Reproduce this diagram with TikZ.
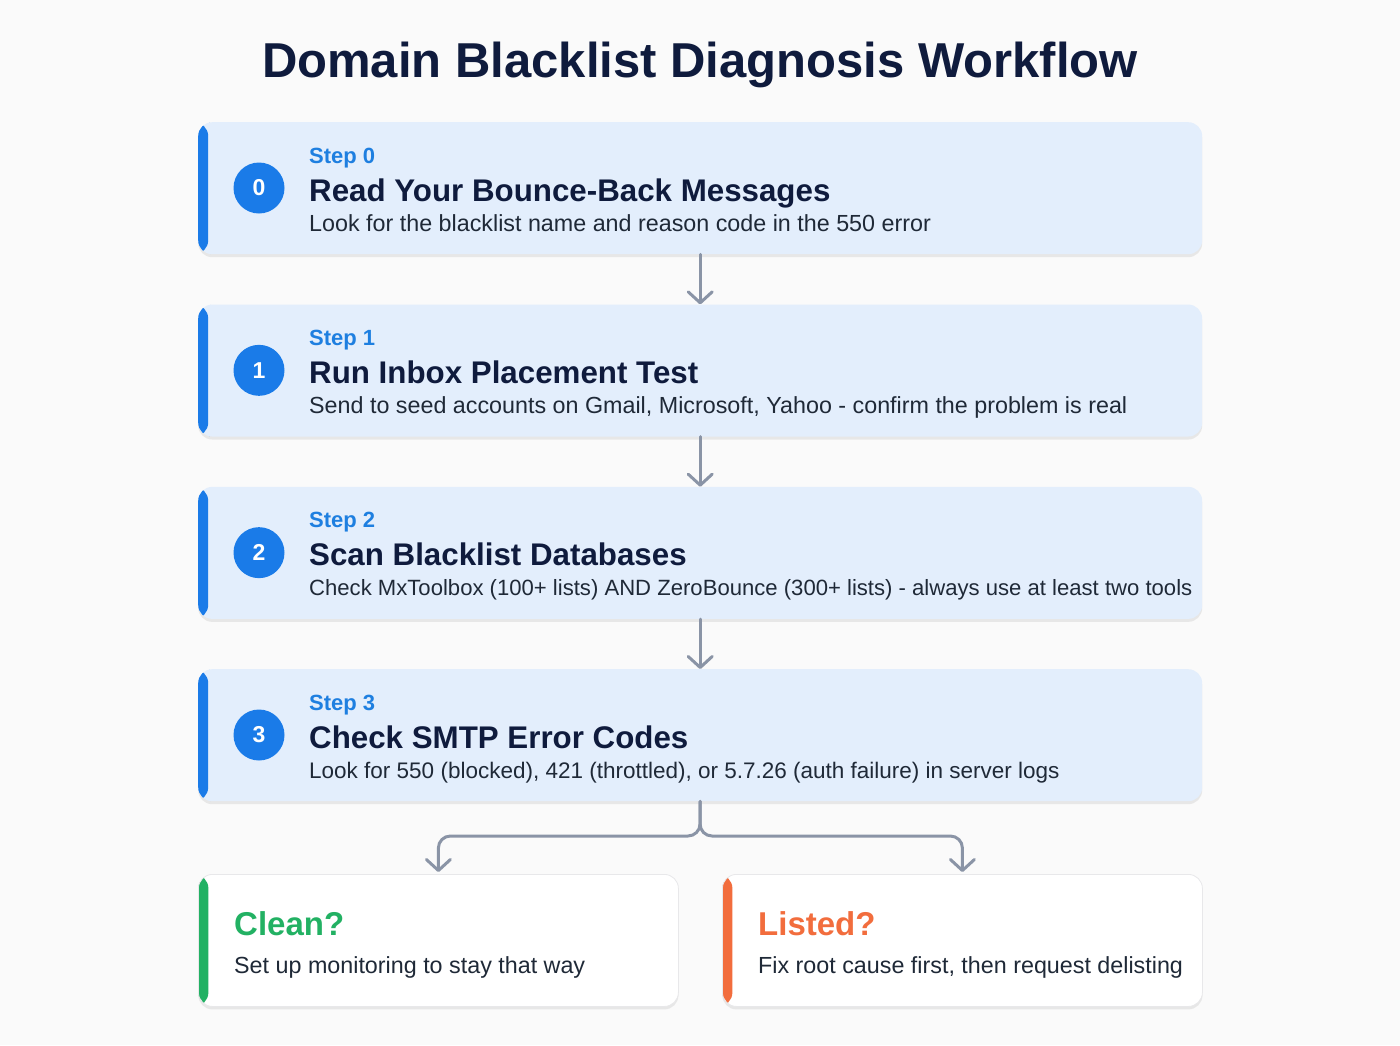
\documentclass[tikz,border=0pt]{standalone}
\usepackage{fontspec}
\setmainfont{Liberation Sans}
\usetikzlibrary{positioning,arrows.meta,shadows}

\definecolor{pagebg}{HTML}{FAFAFA}
\definecolor{navy}{HTML}{0F1B3D}
\definecolor{bodytext}{HTML}{1F2937}
\definecolor{cardblue}{HTML}{E3EEFC}
\definecolor{stepblue}{HTML}{1E7FE0}
\definecolor{accentblue}{HTML}{1A7BE8}
\definecolor{cleangreen}{HTML}{22B163}
\definecolor{listedorange}{HTML}{F26D3D}
\definecolor{flowgray}{HTML}{8A94A6}
\definecolor{edgegray}{HTML}{E8E8EA}

\tikzset{
  cardbox/.style={rounded corners=14pt, inner sep=0pt, minimum height=132pt,
    drop shadow={shadow xshift=0pt, shadow yshift=-3pt, opacity=0.15, fill=gray},
    path picture={\fill[#1] ([xshift=-2pt]path picture bounding box.north west)
      rectangle ([xshift=10pt]path picture bounding box.south west);}},
  stepcard/.style={cardbox=accentblue, fill=cardblue, minimum width=1004pt},
  endcard/.style={cardbox=#1, fill=white, draw=edgegray, line width=0.8pt, minimum width=480pt},
  numdot/.style={circle, fill=accentblue, minimum size=51pt, inner sep=0pt,
    text=white, font=\fontsize{23}{25}\selectfont\bfseries},
  steplabel/.style={anchor=base west, inner sep=0pt, text=stepblue,
    font=\fontsize{22}{24}\selectfont\bfseries},
  steptitle/.style={anchor=base west, inner sep=0pt, text=navy,
    font=\fontsize{31.3}{34}\selectfont\bfseries},
  stepdesc/.style={anchor=base west, inner sep=0pt, text=bodytext,
    font=\fontsize{#1}{26}\selectfont},
  stepdesc/.default=23.3,
  flow/.style={draw=flowgray, line width=3pt, line cap=round,
    -{Straight Barb[length=11pt, width=24pt, round]}}
}

\begin{document}
\begin{tikzpicture}[x=1pt, y=-1pt]
  \fill[pagebg] (0,0) rectangle (1400,1045);
  \useasboundingbox (0,0) rectangle (1400,1045);

  \node[anchor=base, inner sep=0pt, text=navy, font=\fontsize{49}{54}\selectfont\bfseries]
    (title) at (700,77) {Domain Blacklist Diagnosis Workflow};

  % the four steps
  \foreach \i/\fs/\ttl/\dsc in {
      0/23.3/{Read Your Bounce-Back Messages}/{Look for the blacklist name and reason code in the 550 error},
      1/23.3/{Run Inbox Placement Test}/{Send to seed accounts on Gmail, Microsoft, Yahoo - confirm the problem is real},
      2/22.1/{Scan Blacklist Databases}/{Check MxToolbox (100+ lists) AND ZeroBounce (300+ lists) - always use at least two tools},
      3/22.5/{Check SMTP Error Codes}/{Look for 550 (blocked), 421 (throttled), or 5.7.26 (auth failure) in server logs}} {
    \node[stepcard, anchor=north west] (s\i) at (198,{122+182.33*\i}) {};
    \node[numdot] (n\i) at ([xshift=61pt, yshift=-66pt]s\i.north west) {\i};
    \node[steplabel] (l\i) at ([xshift=111pt, yshift=-41pt]s\i.north west) {Step \i};
    \node[steptitle] (t\i) at ([xshift=111pt, yshift=-79pt]s\i.north west) {\ttl};
    \node[stepdesc=\fs] (d\i) at ([xshift=111pt, yshift=-109pt]s\i.north west) {\dsc};
  }

  % outcomes
  \node[endcard=cleangreen, anchor=north west] (clean) at (198,874) {};
  \node[anchor=base west, inner sep=0pt, text=cleangreen, font=\fontsize{33}{36}\selectfont\bfseries]
    (cleant) at ([xshift=36pt, yshift=-61pt]clean.north west) {Clean?};
  \node[stepdesc] (cleand) at ([xshift=36pt, yshift=-99pt]clean.north west)
    {Set up monitoring to stay that way};

  \node[endcard=listedorange, anchor=north west] (listed) at (722,874) {};
  \node[anchor=base west, inner sep=0pt, text=listedorange, font=\fontsize{33}{36}\selectfont\bfseries]
    (listedt) at ([xshift=36pt, yshift=-61pt]listed.north west) {Listed?};
  \node[stepdesc] (listedd) at ([xshift=36pt, yshift=-99pt]listed.north west)
    {Fix root cause first, then request delisting};

  % connectors
  \foreach \a/\b in {0/1, 1/2, 2/3}
    \draw[flow] (s\a.south) -- (s\b.north);
  \coordinate (split) at (700,836);
  \draw[flow, rounded corners=12pt] (s3.south) -- (split) -| ([yshift=2pt]clean.north);
  \draw[flow, rounded corners=12pt] (s3.south) -- (split) -| ([yshift=2pt]listed.north);
\end{tikzpicture}
\end{document}
